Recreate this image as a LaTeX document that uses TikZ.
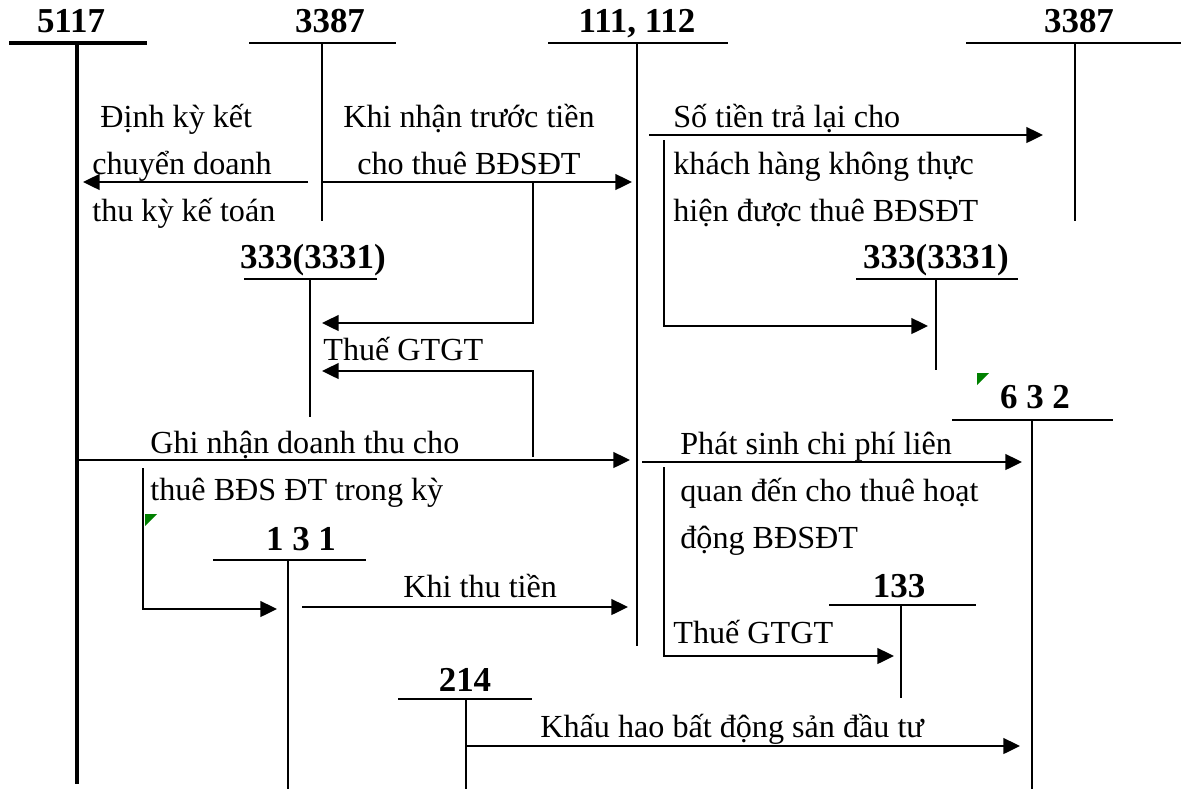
\documentclass[tikz,border=0pt]{standalone}
\usepackage{fontspec}
\setmainfont{Liberation Serif}
\usetikzlibrary{arrows.meta}
\definecolor{xanhdau}{RGB}{0,128,0}

\begin{document}
\begin{tikzpicture}[x=0.02cm, y=-0.02cm, font=\fontsize{18.3}{26.7}\selectfont,
        acc/.style={font=\fontsize{19.9}{24}\selectfont\bfseries, inner sep=0pt, anchor=base},
        txt/.style={inner sep=0pt, anchor=base west, align=left},
        tbar/.style={line width=1.6pt},
        tstem/.style={line width=1.3pt},
        arr/.style={line width=1.15pt, -{Triangle[length=9.5pt, width=9pt]}}
    ]
    \useasboundingbox (0,0) rectangle (1190,789);

    % tai khoan chu T
    \node[acc] (n5117) at (71,32) {5117};
    \draw[line width=2.3pt] (9,43) -- (147,43) (77,43) -- (77,784);
    \node[acc] (n3387a) at (330,32) {3387};
    \draw[tbar] (249,43) -- (396,43);
    \draw[tstem] (322,43) -- (322,221);
    \node[acc] (n111) at (637,32) {111, 112};
    \draw[tbar] (548,43) -- (728,43);
    \draw[tstem] (637,43) -- (637,646);
    \node[acc] (n3387b) at (1079,32) {3387};
    \draw[tbar] (966,43) -- (1181,43);
    \draw[tstem] (1075,43) -- (1075,221);
    \node[acc] (n3331a) at (313,268) {333(3331)};
    \draw[tbar] (244,279) -- (377,279);
    \draw[tstem] (310,279) -- (310,417);
    \node[acc] (n3331b) at (936,268) {333(3331)};
    \draw[tbar] (856,279) -- (1018,279);
    \draw[tstem] (936,279) -- (936,370);
    \node[acc] (n632) at (1035,408) {6 3 2};
    \draw[tbar] (952,420) -- (1113,420);
    \draw[tstem] (1032,420) -- (1032,789);
    \node[acc] (n131) at (301,550) {1 3 1};
    \draw[tbar] (213,560) -- (366,560);
    \draw[tstem] (288,560) -- (288,789);
    \node[acc] (n133) at (899,597) {133};
    \draw[tbar] (829,605) -- (976,605);
    \draw[tstem] (901,605) -- (901,698);
    \node[acc] (n214) at (465,691) {214};
    \draw[tbar] (398,699) -- (532,699);
    \draw[tstem] (466,699) -- (466,789);

    % noi dung nghiep vu (toa do = dong cuoi)
    \node[txt] (dinhky) at (92,221) {\ Định kỳ kết\\chuyển doanh\\thu kỳ kế toán};
    \node[txt, anchor=base, align=center] (nhantruoc) at (469,174) {Khi nhận trước tiền\\cho thuê BĐSĐT};
    \node[txt] (thue1) at (323,360) {Thuế GTGT};
    \node[txt] (ghinhan) at (150,500) {Ghi nhận doanh thu cho\\thuê BĐS ĐT trong kỳ};
    \node[txt] (thutien) at (403,597) {Khi thu tiền};
    \node[txt] (tralai) at (673,221) {Số tiền trả lại cho\\khách hàng không thực\\hiện được thuê BĐSĐT};
    \node[txt] (chiphi) at (680,548) {Phát sinh chi phí liên\\quan đến cho thuê hoạt\\động BĐSĐT};
    \node[txt] (thue2) at (673,643) {Thuế GTGT};
    \node[txt] (khauhao) at (540,737) {Khấu hao bất động sản đầu tư};

    % dau mut cac mui ten
    \coordinate (dk1) at (308,182);  \coordinate (dk2) at (83,182);
    \coordinate (nt1) at (322,182);  \coordinate (nt2) at (632,182);
    \coordinate (vt1) at (533,182);  \coordinate (vt2) at (322,323);
    \coordinate (vd1) at (533,457);  \coordinate (vd2) at (322,371);
    \coordinate (gn1) at (79,460);   \coordinate (gn2) at (630,460);
    \coordinate (pt1) at (143,468);  \coordinate (pt2) at (277,609);
    \coordinate (tt1) at (302,607);  \coordinate (tt2) at (628,607);
    \coordinate (tl1) at (649,135);  \coordinate (tl2) at (1043,135);
    \coordinate (gt1) at (664,140);  \coordinate (gt2) at (928,326);
    \coordinate (cp1) at (642,462);  \coordinate (cp2) at (1022,462);
    \coordinate (kt1) at (664,467);  \coordinate (kt2) at (894,656);
    \coordinate (kh1) at (466,746);  \coordinate (kh2) at (1020,746);

    \draw[arr] (dk1) -- (dk2);
    \draw[arr] (nt1) -- (nt2);
    \draw[arr] (vt1) |- (vt2);
    \draw[arr] (vd1) |- (vd2);
    \draw[arr] (gn1) -- (gn2);
    \draw[arr] (pt1) |- (pt2);
    \draw[arr] (tt1) -- (tt2);
    \draw[arr] (tl1) -- (tl2);
    \draw[arr] (gt1) |- (gt2);
    \draw[arr] (cp1) -- (cp2);
    \draw[arr] (kt1) |- (kt2);
    \draw[arr] (kh1) -- (kh2);

    % dau xanh nho
    \fill[xanhdau] (145,514) -- (157,514) -- (145,526) -- cycle;
    \fill[xanhdau] (977,373) -- (989,373) -- (977,385) -- cycle;
\end{tikzpicture}
\end{document}
